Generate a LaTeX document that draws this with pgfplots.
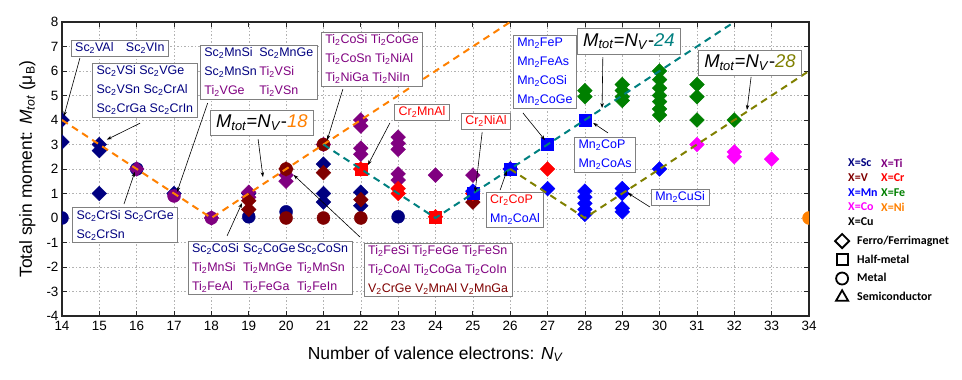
\documentclass[border=0pt]{standalone}
\usepackage{fontspec}
\setmainfont{Liberation Sans}
\newfontfamily\carlito{Carlito}
\usepackage{pgfplots}
\pgfplotsset{compat=1.18}
\usetikzlibrary{arrows.meta}
\definecolor{sc}{RGB}{0,0,128}
\definecolor{ti}{RGB}{128,0,128}
\definecolor{vv}{RGB}{128,0,0}
\definecolor{cr}{RGB}{255,0,0}
\definecolor{mn}{RGB}{0,0,255}
\definecolor{fe}{RGB}{0,128,0}
\definecolor{co}{RGB}{255,0,255}
\definecolor{ni}{RGB}{255,128,0}
\definecolor{la}{RGB}{255,128,0}
\definecolor{lb}{RGB}{0,128,128}
\definecolor{lc}{RGB}{128,128,0}
\newcommand\s{\textsubscript{2}}
\newcommand\cl[2]{\makebox[#1][l]{#2}}
\begin{document}
\begin{tikzpicture}
\begin{axis}[
 name=a, scale only axis, width=747bp, height=294bp,
 xmin=14,xmax=34,ymin=-4,ymax=8,
 xtick={14,...,34}, ytick={-4,...,8},
 tick align=inside, tick pos=both, major tick length=5bp,
 grid=major, grid style={gray!60, dash pattern=on 1.5bp off 2bp, line width=0.5bp},
 axis line style={line width=1.2bp, black!85},
 tick style={line width=0.8bp, black!85},
 ticklabel style={font=\fontsize{13.5}{16}\selectfont},
 xticklabel style={yshift=-2bp},
 /pgf/number format/assume math mode=true,
 xlabel={Number of valence electrons: \textit{N}\textsubscript{\textit{V}}},
 ylabel={Total spin moment: \textit{M}\textsubscript{\textit{tot}} (μ\textsubscript{B})},
 label style={font=\fontsize{17.5}{20}\selectfont},
 xlabel style={at={(axis description cs:0.5,-0.1463)}, anchor=base},
 ylabel style={at={(axis description cs:-0.0402,0.5)}, anchor=base},
 clip marker paths=true,
 dia/.style={forget plot, only marks, mark=square*, mark size=5.2bp, mark options={rotate=45}, color=#1},
 cir/.style={forget plot, only marks, mark=*, mark size=6.5bp, color=#1},
 sqr/.style={forget plot, only marks, mark=square*, mark size=6bp, color=#1},
 legend style={draw=none, fill=none, at={(axis description cs:1.0306,0.2864)}, anchor=north west,
   font=\carlito\bfseries\fontsize{12}{15}\selectfont, row sep=4.8bp,
   /tikz/every odd column/.append style={column sep=6bp}},
 legend cell align=left,
]
% Sc
\addplot[dia=sc] coordinates {(14,4.0) (14,3.1) (15,3.0) (15,2.75) (15,1.0) (17,1.0) (19,1.0) (21,2.2) (21,1.0) (21,0.65) (22,1.05) (22,0.5)};
\addplot[cir=sc] coordinates {(14,0) (16,2.0) (19,0.05) (20,0.25) (23,0.05)};
% Ti
\addplot[dia=ti] coordinates {(16,2.0) (18,0.0) (19,1.05) (19,0.85) (20,1.75) (20,1.5) (21,3.0) (22,4.0) (22,3.75) (22,2.85) (22,2.6) (23,3.3) (23,3.05) (23,2.8) (23,1.8) (23,1.55) (24,1.75) (25,1.75)};
\addplot[cir=ti] coordinates {(17,0.9) (18,0.0)};
% V
\addplot[dia=vv] coordinates {(19,0.7) (19,0.35) (20,2.0) (21,1.85) (22,0.75) (25,0.65)};
\addplot[cir=vv] coordinates {(20,2.0) (20,0.0) (21,3.0) (21,0.0) (22,0.0)};
% Cr
\addplot[dia=cr] coordinates {(22,2.0) (23,1.2) (23,1.0) (24,0.05) (25,1.0) (26,2.0) (27,2.0)};
\addplot[sqr=cr] coordinates {(22,2.0) (24,0.05)};
% Mn
\addplot[dia=mn] coordinates {(25,1.1) (26,2.0) (27,1.2) (28,1.1) (28,0.85) (28,0.6) (28,0.35) (28,0.15) (29,1.2) (29,1.0) (29,0.4) (29,0.25) (30,2.0)};
\addplot[sqr=mn] coordinates {(25,1.0) (26,2.0) (27,3.0) (28,4.0)};
% Fe
\addplot[dia=fe] coordinates {(28,5.2) (28,4.95) (29,5.45) (29,5.2) (29,4.95) (29,4.8) (30,6.0) (30,5.65) (30,5.3) (30,5.0) (30,4.75) (30,4.45) (30,4.2) (31,5.45) (31,4.95) (31,4.0) (32,4.0)};
% Co
\addplot[dia=co] coordinates {(31,3.0) (32,2.7) (32,2.5) (33,2.4)};
% Ni
\addplot[cir=ni] coordinates {(34,0)};
% guide lines
\addplot[forget plot, color=la, line width=2bp, dash pattern=on 7bp off 5bp] coordinates {(14,4) (18,0) (26,8)};
\addplot[forget plot, color=lb, line width=2bp, dash pattern=on 7bp off 5bp] coordinates {(21,3) (24,0) (32,8)};
\addplot[forget plot, color=lc, line width=2bp, dash pattern=on 7bp off 5bp] coordinates {(26,2) (28,0) (34,6)};
% legend
\addlegendimage{only marks, mark=square, mark size=5bp, mark options={rotate=45, line width=1.8bp, black}}
\addlegendentry{Ferro/Ferrimagnet}
\addlegendimage{only marks, mark=square, mark size=5.5bp, mark options={line width=1.8bp, black}}
\addlegendentry{Half-metal}
\addlegendimage{only marks, mark=o, mark size=6bp, mark options={line width=1.8bp, black}}
\addlegendentry{Metal}
\addlegendimage{only marks, mark=triangle, mark size=7bp, mark options={line width=1.8bp, black}}
\addlegendentry{Semiconductor}
% annotations
\tikzset{arr/.style={-{Stealth[length=5bp,width=3.5bp]}, line width=0.6bp, black},
 box/.style={draw=gray, fill=white, line width=0.8bp, inner xsep=4bp, inner ysep=2.5bp, font=\fontsize{12.5}{19}\selectfont, align=left},
 big/.style={box, font=\fontsize{18.5}{22}\selectfont, inner xsep=6bp, inner ysep=5bp}}
\draw[arr] (axis cs:14.48,6.53) -- (axis cs:14.05,4.15);
\draw[arr] (axis cs:16.09,3.87) -- (axis cs:15.2,3.2);
\draw[arr] (axis cs:17.9,4.69) -- (axis cs:17.08,1.06);
\draw[arr] (axis cs:21.52,5.26) -- (axis cs:21.1,3.18);
\draw[arr] (axis cs:19.25,3.22) -- (axis cs:19.38,1.67);
\draw[arr] (axis cs:22.78,3.88) -- (axis cs:22.19,2.16);
\draw[arr] (axis cs:25.25,3.51) -- (axis cs:25.06,1.06);
\draw[arr] (axis cs:26.34,4.29) -- (axis cs:26.93,3.18);
\draw[arr] (axis cs:28.48,6.57) -- (axis cs:28.46,4.49);
\draw[arr] (axis cs:28.62,3.47) -- (axis cs:28.22,3.88);
\draw[arr] (axis cs:32.45,5.76) -- (axis cs:32.34,4.41);
\draw[arr] (axis cs:29.74,0.45) -- (axis cs:29.15,1.02);
\draw[arr] (axis cs:25.73,1.14) -- (axis cs:25.91,1.92);
\draw[arr] (axis cs:15.66,0.57) -- (axis cs:15.95,1.88);
\draw[arr] (axis cs:18.42,-0.73) -- (axis cs:18.82,0.61);
\draw[arr] (axis cs:21.98,-0.78) -- (axis cs:20.2,1.76);
\node[box, text=sc] at (axis cs:15.55,6.94) {Sc\s VAl\quad Sc\s VIn};
\node[box, text=sc] at (axis cs:16.22,5.22) {Sc\s VSi Sc\s VGe\\Sc\s VSn Sc\s CrAl\\Sc\s CrGa Sc\s CrIn};
\node[box, text=ti] at (axis cs:19.27,5.96) {\cl{55bp}{\textcolor{sc}{Sc\s MnSi}}\textcolor{sc}{Sc\s MnGe}\\\cl{55bp}{\textcolor{sc}{Sc\s MnSn}}Ti\s VSi\\\cl{55bp}{Ti\s VGe}Ti\s VSn};
\node[box, text=ti] at (axis cs:22.3,6.49) {Ti\s CoSi Ti\s CoGe\\Ti\s CoSn Ti\s NiAl\\Ti\s NiGa Ti\s NiIn};
\node[big] at (axis cs:19.35,3.88) {\textit{M}\textsubscript{\textit{tot}}=\textit{N}\textsubscript{\textit{V}}-\textcolor{la}{\textit{18}}};
\node[box, text=cr] at (axis cs:23.64,4.33) {Cr\s MnAl};
\node[box, text=cr] at (axis cs:25.35,3.96) {Cr\s NiAl};
\node[box, text=mn] at (axis cs:26.93,5.96) {Mn\s FeP\\Mn\s FeAs\\Mn\s CoSi\\Mn\s CoGe};
\node[big] at (axis cs:29.18,7.22) {\textit{M}\textsubscript{\textit{tot}}=\textit{N}\textsubscript{\textit{V}}-\textcolor{lb}{\textit{24}}};
\node[box, text=mn] at (axis cs:28.54,2.57) {Mn\s CoP\\Mn\s CoAs};
\node[big] at (axis cs:32.42,6.33) {\textit{M}\textsubscript{\textit{tot}}=\textit{N}\textsubscript{\textit{V}}-\textcolor{lc}{\textit{28}}};
\node[box, text=mn] at (axis cs:30.55,0.86) {Mn\s CuSi};
\node[box, text=mn] at (axis cs:26.13,0.33) {\textcolor{cr}{Cr\s CoP}\\Mn\s CoAl};
\node[box, text=sc] at (axis cs:15.69,-0.29) {Sc\s CrSi Sc\s CrGe\\Sc\s CrSn};
\node[box, text=ti] at (axis cs:19.57,-2.04) {\textcolor{sc}{\cl{51bp}{Sc\s CoSi}\cl{54bp}{Sc\s CoGe}Sc\s CoSn}\\\cl{51bp}{Ti\s MnSi}\cl{54bp}{Ti\s MnGe}Ti\s MnSn\\\cl{51bp}{Ti\s FeAl}\cl{54bp}{Ti\s FeGa}Ti\s FeIn};
\node[box, text=ti] at (axis cs:24.07,-2.12) {Ti\s FeSi Ti\s FeGe Ti\s FeSn\\Ti\s CoAl Ti\s CoGa Ti\s CoIn\\\textcolor{vv}{V\s CrGe V\s MnAl V\s MnGa}};
\end{axis}
\tikzset{lx/.style={anchor=west, inner sep=0pt, font=\carlito\bfseries\fontsize{12}{14}\selectfont}}
\node[lx] at ([shift={(786bp,153bp)}]a.south west) {\textcolor{sc}{X=Sc}};
\node[lx] at ([shift={(819bp,153bp)}]a.south west) {\textcolor{ti}{X=Ti}};
\node[lx] at ([shift={(786bp,138bp)}]a.south west) {\textcolor{vv}{X=V}};
\node[lx] at ([shift={(819bp,138bp)}]a.south west) {\textcolor{cr}{X=Cr}};
\node[lx] at ([shift={(786bp,123bp)}]a.south west) {\textcolor{mn}{X=Mn}};
\node[lx] at ([shift={(819bp,123bp)}]a.south west) {\textcolor{fe}{X=Fe}};
\node[lx] at ([shift={(786bp,109bp)}]a.south west) {\textcolor{co}{X=Co}};
\node[lx] at ([shift={(819bp,109bp)}]a.south west) {\textcolor{ni}{X=Ni}};
\node[lx] at ([shift={(786bp,94bp)}]a.south west) {X=Cu};
\pgfresetboundingbox
\path[use as bounding box] ([shift={(-62bp,-64bp)}]a.south west) rectangle ([shift={(153bp,22bp)}]a.north east);
\end{tikzpicture}
\end{document}
